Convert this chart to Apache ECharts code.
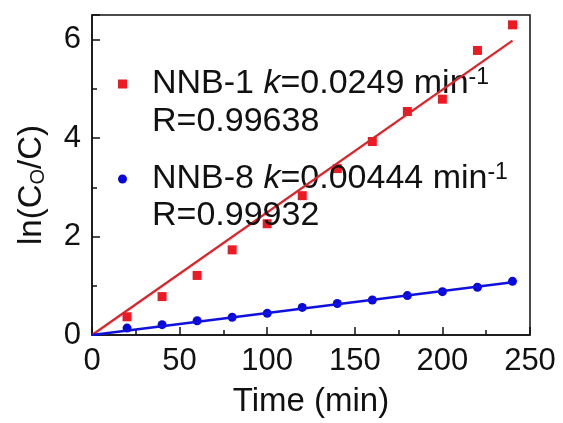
<!DOCTYPE html>
<html>
<head>
<meta charset="utf-8">
<script src="https://cdn.jsdelivr.net/npm/echarts@6/dist/echarts.min.js"></script>
<style>
html,body{margin:0;padding:0;background:#fff;}
#chart{width:563px;height:423px;}
</style>
</head>
<body>
<div id="chart"></div>
<script>
// ---- data ----
const time = [20, 40, 60, 80, 100, 120, 140, 160, 180, 200, 220, 240];
const nnb1 = [0.37, 0.78, 1.21, 1.73, 2.26, 2.83, 3.38, 3.93, 4.54, 4.79, 5.78, 6.30];
const nnb8 = [0.14, 0.21, 0.29, 0.36, 0.44, 0.56, 0.64, 0.71, 0.80, 0.88, 0.97, 1.09];
const fitTime = [0, 240];
const fitNNB1 = [0, 5.98];
const fitNNB8 = [0, 1.07];
const seriesNames = ['NNB-1', 'NNB-8'];
const kValues = ['0.0249', '0.00444'];
const rValues = ['R=0.99638', 'R=0.99932'];
const xTicks = [0, 50, 100, 150, 200, 250];
const yTicks = [0, 2, 4, 6];

const FONT = 'Liberation Sans, Arial, sans-serif';
const RED = '#ec1a22';
const RED_LINE = '#e02228';
const BLUE = '#0808dc';
const BLUE_LINE = '#1010e0';
const INK = '#111';

const pairs = (xs, ys) => xs.map((x, i) => [x, ys[i]]);

const chart = echarts.init(document.getElementById('chart'));
chart.setOption({
  animation: false,
  backgroundColor: '#fff',
  grid: {left: 92, right: 33, top: 15, bottom: 82, show: true, borderColor: '#111', borderWidth: 1.5, backgroundColor: 'transparent'},
  xAxis: {
    type: 'value', min: xTicks[0], max: xTicks[xTicks.length - 1], interval: 50,
    name: 'Time (min)', nameLocation: 'middle', nameGap: 50,
    nameTextStyle: {fontSize: 33, fontFamily: FONT, color: INK},
    axisLine: {show: true, lineStyle: {color: '#111', width: 1.5}},
    axisTick: {show: true, inside: true, length: 8, lineStyle: {color: '#111', width: 1.5}},
    minorTick: {show: true, splitNumber: 2, length: 5, lineStyle: {color: '#111', width: 1.5}},
    splitLine: {show: false},
    axisLabel: {fontSize: 31, fontFamily: FONT, color: INK, margin: 11, showMinLabel: true, showMaxLabel: true}
  },
  yAxis: {
    type: 'value', min: 0, max: 6.5, interval: 2,
    name: 'ln(C{s|O}/C)', nameLocation: 'middle', nameGap: 44,
    nameTextStyle: {fontSize: 33, fontFamily: FONT, color: INK, padding: [0, 20, 0, 0],
      rich: {s: {fontSize: 20, fontFamily: FONT, color: INK, verticalAlign: 'bottom', padding: [12, 0, 0, 0]}}},
    axisLine: {show: true, lineStyle: {color: '#111', width: 1.5}},
    axisTick: {show: true, inside: true, length: 8, lineStyle: {color: '#111', width: 1.5}},
    minorTick: {show: true, splitNumber: 2, length: 5, lineStyle: {color: '#111', width: 1.5}},
    splitLine: {show: false},
    axisLabel: {fontSize: 31, fontFamily: FONT, color: INK, margin: 11, showMaxLabel: false,
      formatter: v => (yTicks.indexOf(v) >= 0 ? String(v) : '')}
  },
  legend: {
    orient: 'vertical', left: 118, top: 66, itemGap: 59, padding: 0,
    itemWidth: 9, itemHeight: 9,
    data: [{name: seriesNames[0], icon: 'rect'}, {name: seriesNames[1], icon: 'circle'}],
    formatter: name => {
      const i = seriesNames.indexOf(name);
      return '{sp|}{a|' + name + ' }{i|k}{a|=' + kValues[i] + ' min}{sup|-1}';
    },
    textStyle: {
      fontSize: 34, fontFamily: FONT, color: INK, lineHeight: 36,
      rich: {
        sp: {width: 20},
        a: {fontSize: 34, fontFamily: FONT, color: INK, lineHeight: 36},
        i: {fontSize: 34, fontFamily: FONT, color: INK, fontStyle: 'italic', lineHeight: 36},
        sup: {fontSize: 23, fontFamily: FONT, color: INK, verticalAlign: 'top', lineHeight: 22}
      }
    }
  },
  graphic: [
    {type: 'text', left: 152, top: 105, z: 100, style: {text: rValues[0], fontSize: 34, fontFamily: FONT, fill: INK}},
    {type: 'text', left: 152, top: 199, z: 100, style: {text: rValues[1], fontSize: 34, fontFamily: FONT, fill: INK}}
  ],
  series: [
    {name: seriesNames[0], type: 'scatter', symbol: 'rect', symbolSize: 9, itemStyle: {color: RED, opacity: 1}, data: pairs(time, nnb1), z: 3},
    {name: seriesNames[1], type: 'scatter', symbol: 'circle', symbolSize: 9, itemStyle: {color: BLUE, opacity: 1}, data: pairs(time, nnb8), z: 3},
    {name: 'fit1', type: 'line', showSymbol: false, lineStyle: {color: RED_LINE, width: 2.2}, data: pairs(fitTime, fitNNB1), z: 4},
    {name: 'fit8', type: 'line', showSymbol: false, lineStyle: {color: BLUE_LINE, width: 2.6}, data: pairs(fitTime, fitNNB8), z: 4}
  ]
});
</script>
</body>
</html>
